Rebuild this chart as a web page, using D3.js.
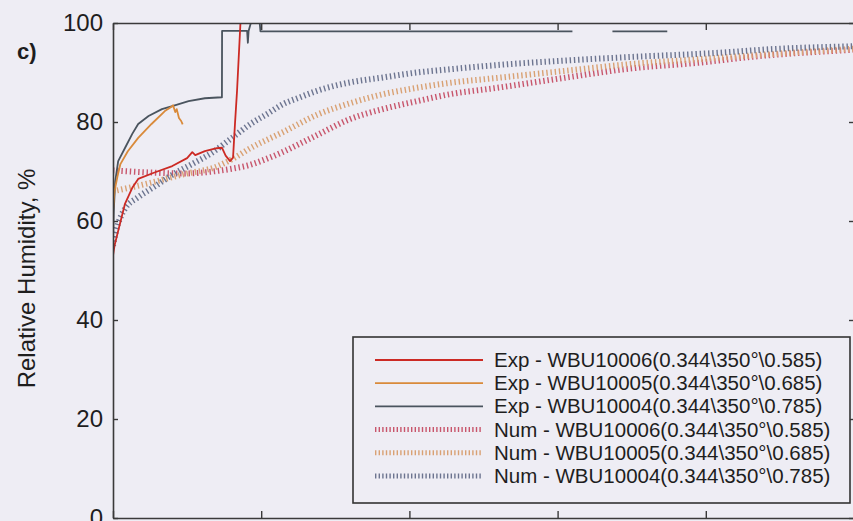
<!DOCTYPE html>
<html>
<head>
<meta charset="utf-8">
<script src="https://cdn.jsdelivr.net/npm/d3@7"></script>
<style>
  html, body { margin: 0; padding: 0; background: #eeedf4; overflow: hidden; }
  svg { display: block; }
  text { font-family: "Liberation Sans", Arial, sans-serif; fill: #1e1e1e; }
</style>
</head>
<body>
<svg id="chart" width="853" height="521"></svg>
<script>
// ---------- data (x in time units, y in % RH; null = reading off the chart) ----------
const yTicks = [0, 20, 40, 60, 80, 100];
const xTicks = [0, 1, 2, 3, 4, 5];

const expRedT  = [0, 0.01, 0.035, 0.08, 0.13, 0.17, 0.28, 0.40, 0.50, 0.535, 0.555, 0.62, 0.70, 0.735, 0.76, 0.79, 0.81, 0.823, 0.837, 0.86];
const expRedV  = [53, 55, 58, 63.4, 66.7, 68.5, 69.8, 71.1, 72.7, 73.9, 73.3, 74.1, 74.7, 74.8, 73.2, 72.1, 72.8, 79.6, 86.3, 100];

const expOrgT  = [0, 0.01, 0.03, 0.05, 0.10, 0.17, 0.26, 0.35, 0.40, 0.405, 0.42, 0.43, 0.445, 0.46, 0.47];
const expOrgV  = [62, 66, 69, 71.5, 74.1, 76.8, 79.6, 82.2, 83.2, 83.4, 82.0, 82.6, 80.8, 80.2, 79.5];

const expDrkT  = [0, 0.005, 0.015, 0.035, 0.08, 0.13, 0.17, 0.24, 0.33, 0.40, 0.51, 0.62, 0.735, 0.736, 0.89, 0.905, 0.91, 0.915, 0.93, 0.96, 0.99, 0.995, 3.10, 3.2, 3.37, 3.74, 3.8, 5];
const expDrkV  = [56, 62, 68, 72.1, 74.7, 77.6, 79.6, 81.2, 82.6, 83.2, 84.2, 84.8, 85, 98.4, 98.4, 98.4, 96, 98.4, 100, null, 100, 98.3, 98.3, null, 98.3, 98.3, null, null];

const numRedT  = [0, 0.25, 0.47, 0.70, 0.81, 0.92, 1.04, 1.15, 1.26, 1.38, 1.60, 1.82, 2.05, 2.27, 2.59, 3.04, 3.49, 3.96, 4.32, 5.0];
const numRedV  = [70.2, 69.8, 69.6, 70.1, 70.6, 71.3, 72.6, 74.0, 75.6, 77.4, 80.6, 82.6, 84.2, 85.6, 86.9, 88.9, 90.8, 92.0, 93.2, 94.6];

const numOrgT  = [0, 0.25, 0.47, 0.70, 0.81, 0.92, 1.15, 1.38, 1.60, 1.82, 2.05, 2.27, 2.59, 3.04, 3.49, 3.96, 4.43, 5.0];
const numOrgV  = [66, 67.7, 69.4, 71.0, 72.6, 74.6, 78.0, 81.5, 83.8, 85.6, 86.9, 87.9, 88.9, 90.3, 91.7, 92.7, 93.7, 94.8];

const numDrkT  = [0, 0.02, 0.047, 0.081, 0.169, 0.283, 0.398, 0.533, 0.668, 0.803, 0.938, 1.039, 1.147, 1.262, 1.377, 1.599, 1.822, 2.051, 2.254, 2.591, 3.036, 3.468, 4.096, 4.433, 5.0];
const numDrkV  = [55, 58, 60.5, 62.5, 64.8, 67, 69.3, 71.5, 73.8, 76.8, 79.8, 81.6, 83.6, 85.0, 86.3, 88.0, 89.0, 90.0, 90.6, 91.5, 92.4, 93.1, 94.0, 94.7, 95.3];

const legendLabels = [
  "Exp - WBU10006(0.344\\350°\\0.585)",
  "Exp - WBU10005(0.344\\350°\\0.685)",
  "Exp - WBU10004(0.344\\350°\\0.785)",
  "Num - WBU10006(0.344\\350°\\0.585)",
  "Num - WBU10005(0.344\\350°\\0.685)",
  "Num - WBU10004(0.344\\350°\\0.785)"
];

// ---------- build ----------
const zip = (t, v) => t.map((d, i) => [d, v[i]]);
const series = [
  { name: legendLabels[3], data: zip(numRedT, numRedV), color: "#c8566c", num: true },
  { name: legendLabels[4], data: zip(numOrgT, numOrgV), color: "#d9a173", num: true },
  { name: legendLabels[5], data: zip(numDrkT, numDrkV), color: "#6d7590", num: true },
  { name: legendLabels[2], data: zip(expDrkT, expDrkV), color: "#4a545e", num: false },
  { name: legendLabels[1], data: zip(expOrgT, expOrgV), color: "#d98a3a", num: false },
  { name: legendLabels[0], data: zip(expRedT, expRedV), color: "#cc2a24", num: false }
];
const legendOrder = [5, 4, 3, 0, 1, 2];

const svg = d3.select("#chart");
const W = 853, H = 521;
const L = 113, R = 854, T = 23, B = 518;

svg.append("rect").attr("width", W).attr("height", H).attr("fill", "#eeedf4");

const x = d3.scaleLinear().domain([0, 5]).range([L, R]);
const y = d3.scaleLinear().domain([0, 100]).range([B, T]);

svg.append("defs").append("clipPath").attr("id", "clip")
  .append("rect").attr("x", L).attr("y", T).attr("width", R - L).attr("height", B - T);

const plot = svg.append("g").attr("clip-path", "url(#clip)");

series.forEach(s => {
  const line = d3.line()
    .defined(d => d[1] !== null)
    .x(d => x(d[0])).y(d => y(d[1]))
    .curve(s.num ? d3.curveMonotoneX : d3.curveLinear);
  plot.append("path")
    .attr("d", line(s.data))
    .attr("fill", "none")
    .attr("stroke", s.color)
    .attr("stroke-width", s.num ? 6 : 1.8)
    .attr("stroke-dasharray", s.num ? "1.4,2.8" : null)
    .attr("stroke-linejoin", "round");
});

// axes
const axisColor = "#3a3a3a";
function styleAxis(g) {
  g.selectAll("path.domain").attr("stroke", axisColor).attr("stroke-width", 1.6);
  g.selectAll(".tick line").attr("stroke", axisColor).attr("stroke-width", 1.4);
}
svg.append("g").attr("transform", `translate(${L},0)`)
  .call(d3.axisLeft(y).tickValues(yTicks).tickSize(-5).tickSizeOuter(0).tickPadding(10))
  .call(styleAxis)
  .call(g => g.selectAll(".tick text")
    .attr("font-size", 24).attr("fill", "#1e1e1e")
    .style("font-family", '"Liberation Sans", Arial, sans-serif'));
svg.append("g").attr("transform", `translate(${R},0)`)
  .call(d3.axisRight(y).tickValues(yTicks).tickSize(-5).tickSizeOuter(0).tickFormat(""))
  .call(styleAxis);
svg.append("g").attr("transform", `translate(0,${B})`)
  .call(d3.axisBottom(x).tickValues(xTicks).tickSize(-7).tickSizeOuter(0).tickFormat(""))
  .call(styleAxis);
svg.append("g").attr("transform", `translate(0,${T})`)
  .call(d3.axisTop(x).tickValues(xTicks).tickSize(-7).tickSizeOuter(0).tickFormat(""))
  .call(styleAxis);

// y title
svg.append("text")
  .attr("transform", `translate(35,${(T + B) / 2 + 8}) rotate(-90)`)
  .attr("text-anchor", "middle")
  .attr("font-size", 24)
  .text("Relative Humidity, %");

// panel label
svg.append("text")
  .attr("x", 17).attr("y", 59)
  .attr("font-size", 22).attr("font-weight", "bold")
  .text("c)");

// legend
const lg = svg.append("g");
lg.append("rect")
  .attr("x", 353).attr("y", 337).attr("width", 497).attr("height", 166)
  .attr("fill", "#eeedf4").attr("stroke", "#333").attr("stroke-width", 1.6);
legendOrder.forEach((si, i) => {
  const s = series[si];
  const cy = 360 + i * 23.2;
  lg.append("line")
    .attr("x1", 375).attr("x2", 483).attr("y1", cy).attr("y2", cy)
    .attr("stroke", s.color)
    .attr("stroke-width", s.num ? 5 : 1.8)
    .attr("stroke-dasharray", s.num ? "1.4,2.2" : null);
  lg.append("text")
    .attr("x", 494).attr("y", cy + 7)
    .attr("font-size", 20.5)
    .text(s.name);
});
</script>
</body>
</html>
